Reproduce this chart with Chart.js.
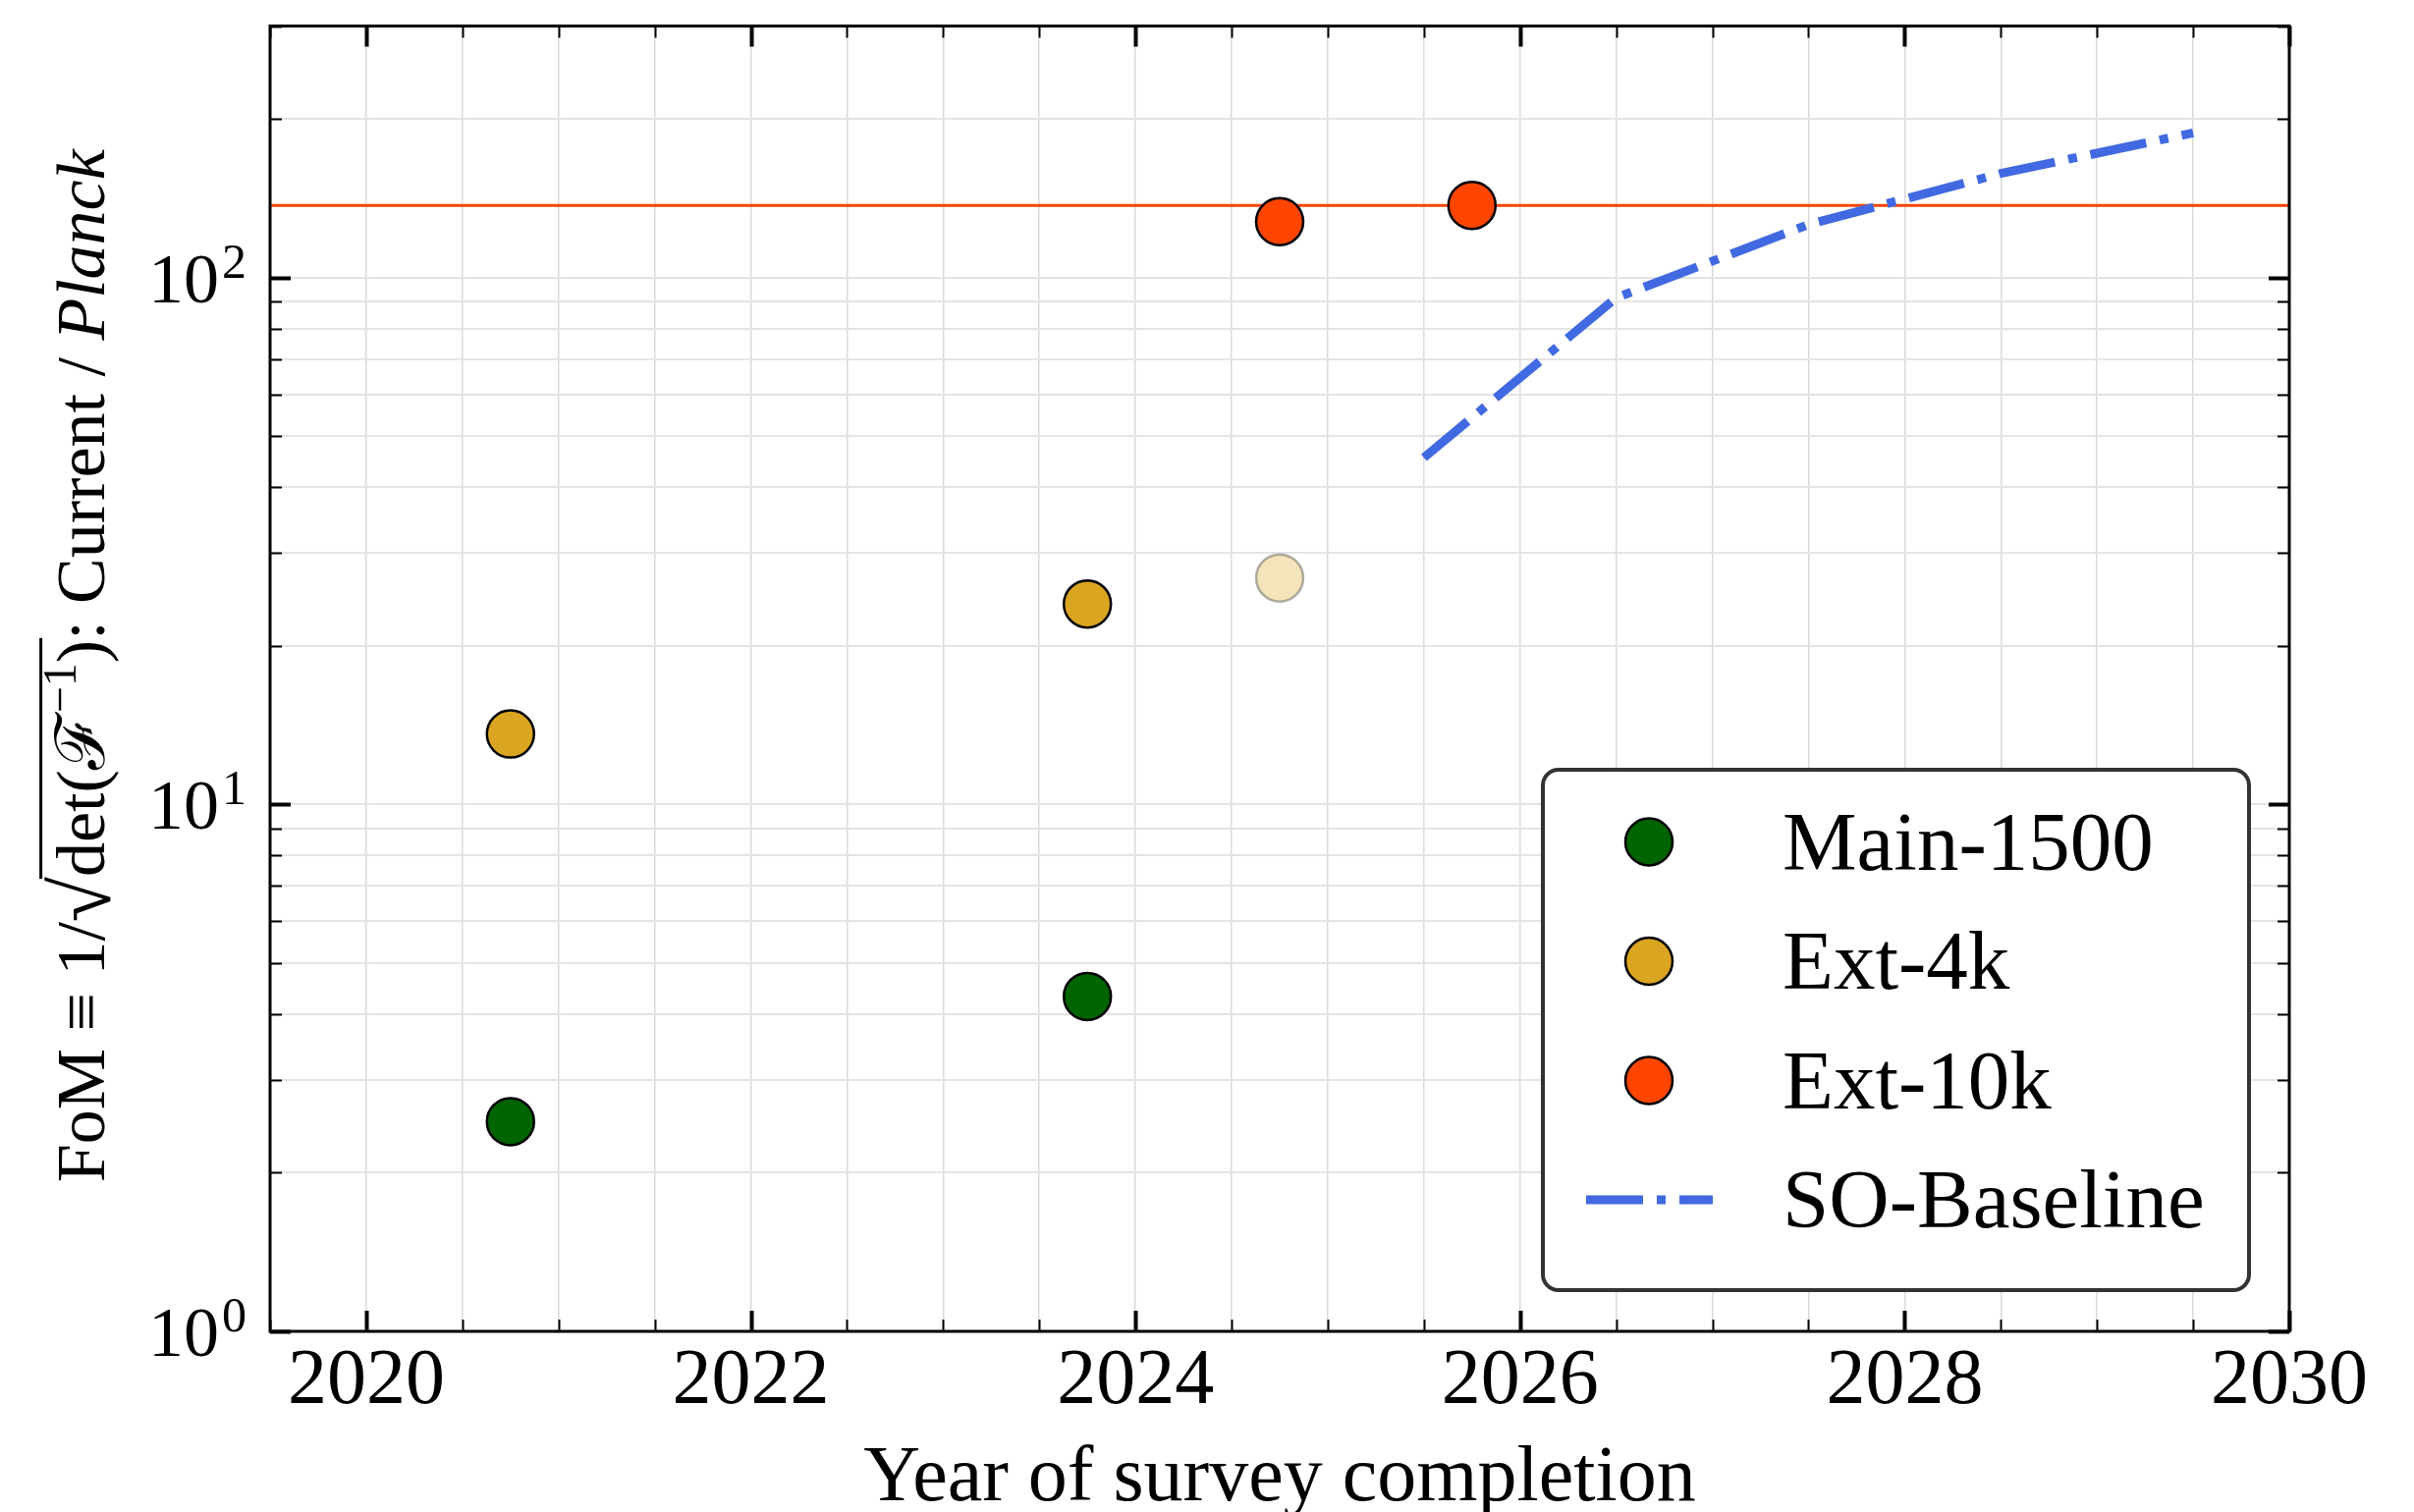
<!DOCTYPE html>
<html>
<head>
<meta charset="utf-8">
<script src="https://cdn.jsdelivr.net/npm/chart.js@4.4.1/dist/chart.umd.min.js"></script>
<style>
  html, body { margin: 0; padding: 0; background: #fff; overflow: hidden; }
  canvas { display: block; }
</style>
</head>
<body>
<canvas id="fom" width="2458" height="1540"></canvas>
<script>
const SERIF = "'Liberation Serif', 'Times New Roman', Times, serif";

// Axis ranges and tick spacing
const yearRange = [2019.5, 2030];
const yearStep = 0.5;
const yearLabelEvery = 2;
const fomRange = [1, 300];
const fomDecadeExponents = { 1: '0', 10: '1', 100: '2' };

// Survey figures of merit (relative to Planck)
const main1500Years = [2020.75, 2023.75];
const main1500FoM   = [2.5, 4.32];

const ext4kYears     = [2020.75, 2023.75, 2024.75];
const ext4kFoM       = [13.6, 24.0, 26.9];
const ext4kProjected = [false, false, true];

const ext10kYears = [2024.75, 2025.75];
const ext10kFoM   = [127.6, 137];
const ext10kLevel = [137];

const soBaselineYears = [2025.5, 2026.5, 2027.5, 2028.5, 2029.5];
const soBaselineFoM   = [45.5, 91.5, 126, 157.5, 188];

const seriesNames = ['Main-1500', 'Ext-4k', 'Ext-10k', 'SO-Baseline'];
const palette = {
  main: '#006400',
  ext4k: '#DAA520',
  ext4kFaint: 'rgba(218,165,32,0.3)',
  ext10k: '#FF4500',
  so: '#4169E1'
};

const pts = (xs, ys) => xs.map((x, i) => ({ x, y: ys[i] }));

const marker = {
  showLine: false,
  pointRadius: 24,
  pointHoverRadius: 24,
  pointBorderWidth: 2.5,
  pointBorderColor: '#000',
  order: 0
};

const soDash = [58, 14, 9, 14];

// Frame, inward tick marks, power-of-ten labels, axis titles and the boxed legend
const decorations = {
  id: 'decorations',
  afterDatasetsDraw(chart) {
    const { ctx, chartArea: a } = chart;
    const xs = chart.scales.x, ys = chart.scales.y;
    ctx.save();
    ctx.strokeStyle = '#000';
    ctx.lineCap = 'butt';
    xs.ticks.forEach(t => {
      const px = Math.round(xs.getPixelForValue(t.value)) + 0.5;
      const major = t.label !== '';
      const len = major ? 21 : 12;
      ctx.lineWidth = major ? 4 : 2;
      ctx.beginPath();
      ctx.moveTo(px, a.bottom); ctx.lineTo(px, a.bottom - len);
      ctx.moveTo(px, a.top); ctx.lineTo(px, a.top + len);
      ctx.stroke();
    });
    ys.ticks.forEach(t => {
      const py = Math.round(ys.getPixelForValue(t.value)) + 0.5;
      const major = t.label !== '';
      const len = major ? 21 : 12;
      ctx.lineWidth = major ? 4 : 2;
      ctx.beginPath();
      ctx.moveTo(a.left, py); ctx.lineTo(a.left + len, py);
      ctx.moveTo(a.right, py); ctx.lineTo(a.right - len, py);
      ctx.stroke();
    });
    ctx.lineWidth = 3;
    ctx.strokeRect(a.left, a.top, a.right - a.left, a.bottom - a.top);
    ctx.restore();
  },
  afterDraw(chart) {
    const { ctx, chartArea: a } = chart;
    ctx.save();
    ctx.fillStyle = '#000';

    // y tick labels: 10 with a raised exponent
    const ys = chart.scales.y;
    ctx.textBaseline = 'alphabetic';
    ys.ticks.forEach(t => {
      if (t.label === '') return;
      const py = ys.getPixelForValue(t.value);
      const right = a.left - 24;
      ctx.font = `50px ${SERIF}`;
      const ew = ctx.measureText(t.label).width;
      ctx.textAlign = 'left';
      ctx.fillText(t.label, right - ew, py);
      ctx.font = `72px ${SERIF}`;
      ctx.textAlign = 'right';
      ctx.fillText('10', right - ew - 3, py + 25);
    });

    // x title
    ctx.font = `80px ${SERIF}`;
    ctx.textAlign = 'center';
    ctx.fillText('Year of survey completion', (a.left + a.right) / 2, 1528);

    // y title with radical, superscript and italic part
    drawYTitle(ctx, 106, (a.top + a.bottom) / 2 - 13);

    drawLegend(ctx, chart);
    ctx.restore();
  }
};

function drawYTitle(ctx, baseX, centerY) {
  const size = 70;
  const normal = `${size}px ${SERIF}`;
  const parts = [
    { t: 'FoM ≡ 1/', f: normal },
    { t: '√', f: `${Math.round(size * 1.2)}px ${SERIF}`, dy: 6 },
    { t: 'det(', f: normal, bar: true },
    { t: 'ℱ', f: normal, bar: true },
    { t: '−1', f: `${Math.round(size * 0.68)}px ${SERIF}`, dy: -0.42 * size, bar: true },
    { t: ')', f: normal, bar: true },
    { t: ': Current / ', f: normal },
    { t: 'Planck', f: `italic ${size}px ${SERIF}` }
  ];
  parts.forEach(p => { ctx.font = p.f; p.w = ctx.measureText(p.t).width; });
  const total = parts.reduce((s, p) => s + p.w, 0);
  ctx.save();
  ctx.translate(baseX, centerY);
  ctx.rotate(-Math.PI / 2);
  ctx.textAlign = 'left';
  ctx.textBaseline = 'alphabetic';
  let x = -total / 2, barStart = null, barEnd = null;
  parts.forEach(p => {
    ctx.font = p.f;
    ctx.fillText(p.t, x, p.dy || 0);
    if (p.bar) { if (barStart === null) barStart = x; barEnd = x + p.w; }
    x += p.w;
  });
  ctx.lineWidth = 3;
  ctx.strokeStyle = '#000';
  ctx.beginPath();
  ctx.moveTo(barStart - 2, -0.92 * size);
  ctx.lineTo(barEnd + 2, -0.92 * size);
  ctx.stroke();
  ctx.restore();
}

function drawLegend(ctx, chart) {
  const box = { left: 1571, top: 784, right: 2290, bottom: 1314, r: 16 };
  ctx.save();
  ctx.beginPath();
  ctx.roundRect(box.left, box.top, box.right - box.left, box.bottom - box.top, box.r);
  ctx.fillStyle = '#fff';
  ctx.fill();
  ctx.lineWidth = 4;
  ctx.strokeStyle = '#333';
  ctx.stroke();

  const rowTop = 857.5, rowGap = 121.5, markX = 1679, textX = 1815;
  ctx.font = `85px ${SERIF}`;
  ctx.textAlign = 'left';
  ctx.textBaseline = 'alphabetic';
  seriesNames.forEach((name, i) => {
    const ds = chart.data.datasets[i];
    const cy = rowTop + i * rowGap;
    if (ds.showLine) {
      ctx.save();
      ctx.strokeStyle = ds.borderColor;
      ctx.lineWidth = ds.borderWidth;
      ctx.setLineDash(ds.borderDash);
      ctx.lineCap = 'butt';
      ctx.beginPath();
      ctx.moveTo(1615, cy); ctx.lineTo(1744, cy);
      ctx.stroke();
      ctx.restore();
    } else {
      const fill = Array.isArray(ds.pointBackgroundColor) ? ds.pointBackgroundColor[0] : ds.pointBackgroundColor;
      ctx.beginPath();
      ctx.arc(markX, cy, 24, 0, Math.PI * 2);
      ctx.fillStyle = fill;
      ctx.fill();
      ctx.lineWidth = 2.5;
      ctx.strokeStyle = '#000';
      ctx.stroke();
    }
    ctx.fillStyle = '#000';
    ctx.fillText(name, textX, cy + 28);
  });
  ctx.restore();
}

new Chart(document.getElementById('fom'), {
  type: 'scatter',
  data: {
    datasets: [
      { ...marker, label: seriesNames[0], data: pts(main1500Years, main1500FoM),
        pointBackgroundColor: palette.main },
      { ...marker, label: seriesNames[1], data: pts(ext4kYears, ext4kFoM),
        pointBackgroundColor: ext4kProjected.map(p => p ? palette.ext4kFaint : palette.ext4k),
        pointBorderColor: ext4kProjected.map(p => p ? 'rgba(0,0,0,0.3)' : '#000') },
      { ...marker, label: seriesNames[2], data: pts(ext10kYears, ext10kFoM),
        pointBackgroundColor: palette.ext10k },
      { label: seriesNames[3], data: pts(soBaselineYears, soBaselineFoM),
        showLine: true, borderColor: palette.so, borderWidth: 9, borderDash: soDash,
        borderCapStyle: 'butt', borderJoinStyle: 'round', tension: 0,
        pointRadius: 0, pointHoverRadius: 0, order: 1 },
      { label: 'Ext-10k level', data: yearRange.map(x => ({ x, y: ext10kLevel[0] })),
        showLine: true, borderColor: palette.ext10k, borderWidth: 3,
        pointRadius: 0, pointHoverRadius: 0, order: 2 }
    ]
  },
  options: {
    responsive: false,
    animation: false,
    devicePixelRatio: 1,
    layout: { padding: { top: 22, right: 127, left: 0, bottom: 0 } },
    plugins: { legend: { display: false }, tooltip: { enabled: false } },
    scales: {
      x: {
        type: 'linear',
        min: yearRange[0],
        max: yearRange[1],
        ticks: {
          stepSize: yearStep,
          autoSkip: false,
          maxRotation: 0,
          padding: 4,
          color: '#000',
          font: { family: SERIF, size: 80 },
          callback: v => {
            const q = v / yearLabelEvery;
            return Math.abs(q - Math.round(q)) < 1e-9 ? String(v) : '';
          }
        },
        grid: { color: '#dadada', lineWidth: 1.5, drawTicks: false },
        border: { display: false },
        afterFit: s => { s.height = 184; s.paddingLeft = 0; s.paddingRight = 0; }
      },
      y: {
        type: 'logarithmic',
        min: fomRange[0],
        max: fomRange[1],
        afterBuildTicks: s => {
          s.ticks = s.ticks.filter(t => {
            const m = t.value / Math.pow(10, Math.floor(Math.log10(t.value) + 1e-9));
            return Math.abs(m - Math.round(m)) < 1e-6;
          });
        },
        ticks: {
          display: false,
          autoSkip: false,
          callback: v => fomDecadeExponents[v] ?? ''
        },
        grid: { color: '#e4e4e4', lineWidth: 2, drawTicks: false },
        border: { display: false },
        afterFit: s => { s.width = 275; s.paddingTop = 0; s.paddingBottom = 0; }
      }
    }
  },
  plugins: [decorations]
});
</script>
</body>
</html>
